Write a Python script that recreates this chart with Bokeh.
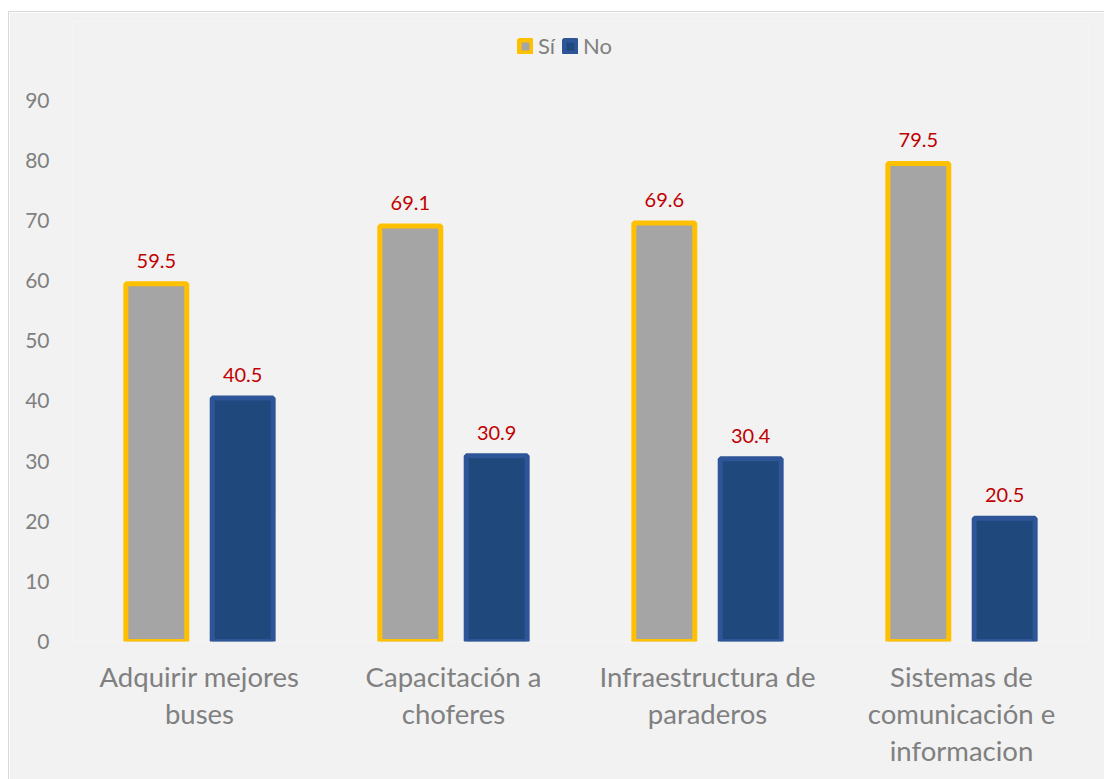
from bokeh.plotting import figure
from bokeh.models import ColumnDataSource, Legend, LegendItem, LabelSet, FixedTicker
from bokeh.core.properties import value
from bokeh.embed import file_html
from bokeh.resources import INLINE

categories = ["Adquirir mejores\nbuses", "Capacitación a\nchoferes",
              "Infraestructura de\nparaderos", "Sistemas de\ncomunicación e\ninformacion"]
si_values = [59.5, 69.1, 69.6, 79.5]
no_values = [40.5, 30.9, 30.4, 20.5]
y_ticks = [0, 10, 20, 30, 40, 50, 60, 70, 80, 90]

FONT = "Lato"
GRAY = "#808080"

idx = list(range(len(categories)))
src_si = ColumnDataSource(dict(x=[i - 0.17 for i in idx], top=si_values,
                               lab=[f"{v:.1f}" for v in si_values]))
src_no = ColumnDataSource(dict(x=[i + 0.17 for i in idx], top=no_values,
                               lab=[f"{v:.1f}" for v in no_values]))

# frame extends above 90 so the legend can sit inside it (ticks stop at 90)
p = figure(width=1096, height=768, x_range=(-0.5, 3.5), y_range=(0, 103.1),
           output_backend="svg", toolbar_location=None,
           min_border_left=63, min_border_right=17, min_border_top=9, min_border_bottom=139)
p.margin = (11, 0, 0, 8)
p.styles = {"border-left": "1px solid #D9D9D9", "border-top": "1px solid #D9D9D9"}
p.background_fill_color = "#F2F2F2"
p.border_fill_color = "#F2F2F2"
p.outline_line_color = None

r_si = p.vbar(x="x", top="top", width=0.24, source=src_si,
              fill_color="#A5A5A5", line_color="#FFC000", line_width=5)
r_no = p.vbar(x="x", top="top", width=0.24, source=src_no,
              fill_color="#1F497D", line_color="#2E5597", line_width=5)

for s in (src_si, src_no):
    p.add_layout(LabelSet(x="x", y="top", text="lab", source=s, y_offset=16,
                          text_align="center", text_baseline="bottom",
                          text_font=value(FONT), text_font_size=value("20px"),
                          text_color="#C00000"))

p.xgrid.grid_line_color = None
p.ygrid.grid_line_color = None

xa = p.xaxis[0]
xa.ticker = FixedTicker(ticks=idx)
xa.major_label_overrides = {i: c for i, c in zip(idx, categories)}
xa.axis_line_color = None
xa.major_tick_line_color = None
xa.minor_tick_line_color = None
xa.major_tick_out = 0
xa.major_label_standoff = 18
xa.major_label_text_font = FONT
xa.major_label_text_font_size = "27.5px"
xa.major_label_text_color = GRAY
xa.major_label_text_line_height = 1.13

ya = p.yaxis[0]
ya.ticker = FixedTicker(ticks=y_ticks)
ya.axis_line_color = None
ya.major_tick_line_color = None
ya.minor_tick_line_color = None
ya.major_tick_out = 0
ya.major_label_standoff = 23
ya.major_label_text_font = FONT
ya.major_label_text_font_size = "21px"
ya.major_label_text_color = GRAY

legend = Legend(items=[LegendItem(label="Sí", renderers=[r_si]),
                       LegendItem(label="No", renderers=[r_no])],
                orientation="horizontal", location=(445, 582))
legend.background_fill_alpha = 0
legend.border_line_color = None
legend.padding = 0
legend.margin = 0
legend.label_text_font = FONT
legend.label_text_font_size = "22px"
legend.label_text_color = GRAY
legend.label_height = 22
legend.glyph_width = 16
legend.glyph_height = 16
legend.spacing = 4
legend.label_standoff = 5
p.add_layout(legend)

open("out.html", "w").write(file_html(p, INLINE))
